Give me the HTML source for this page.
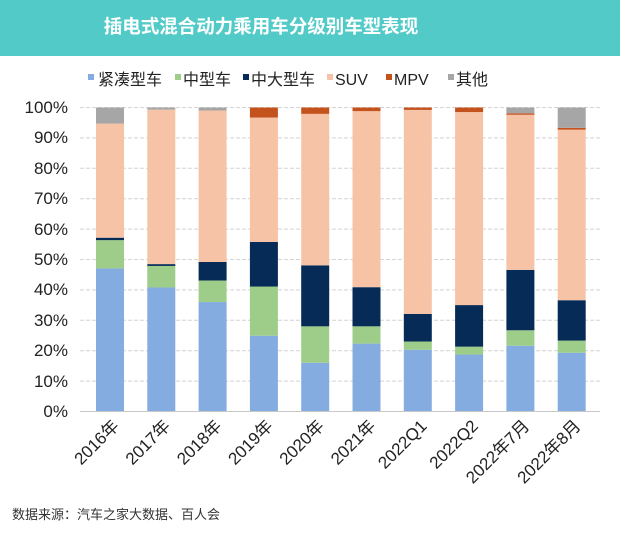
<!DOCTYPE html>
<html><head><meta charset="utf-8"><style>
body{margin:0;width:620px;height:533px;background:#fff;overflow:hidden}
svg text{font-family:"Liberation Sans","Noto Sans CJK SC",sans-serif}
</style></head><body>
<svg width="620" height="533" xmlns="http://www.w3.org/2000/svg">
<rect x="0" y="0" width="620" height="56" fill="#52cbc8"/>
<text x="261" y="33" font-size="18.5" fill="#fff" text-anchor="middle" font-weight="bold">插电式混合动力乘用车分级别车型表现</text>
<g font-size="16" fill="#222">
<rect x="88" y="74" width="6" height="6" fill="#85ace0"/><text x="98" y="85">紧凑型车</text>
<rect x="175" y="74" width="6" height="6" fill="#9dcd88"/><text x="183" y="85">中型车</text>
<rect x="243" y="74" width="6" height="6" fill="#062b57"/><text x="251" y="85">中大型车</text>
<rect x="327" y="74" width="6" height="6" fill="#f6c3a6"/><text x="335" y="85">SUV</text>
<rect x="386" y="74" width="6" height="6" fill="#c4521d"/><text x="394" y="85">MPV</text>
<rect x="448" y="74" width="6" height="6" fill="#a6a6a6"/><text x="456" y="85">其他</text>
</g>
<g stroke="#d4d4d4" stroke-dasharray="4,2" stroke-width="1">
<line x1="80" x2="600" y1="107.5" y2="107.5"/><line x1="80" x2="600" y1="137.9" y2="137.9"/><line x1="80" x2="600" y1="168.3" y2="168.3"/><line x1="80" x2="600" y1="198.7" y2="198.7"/><line x1="80" x2="600" y1="229.1" y2="229.1"/><line x1="80" x2="600" y1="259.5" y2="259.5"/><line x1="80" x2="600" y1="289.9" y2="289.9"/><line x1="80" x2="600" y1="320.3" y2="320.3"/><line x1="80" x2="600" y1="350.7" y2="350.7"/><line x1="80" x2="600" y1="381.1" y2="381.1"/>
</g>
<g font-size="17" fill="#222" text-anchor="end">
<text x="68" y="417">0%</text><text x="68" y="387">10%</text><text x="68" y="356">20%</text><text x="68" y="326">30%</text><text x="68" y="295">40%</text><text x="68" y="265">50%</text><text x="68" y="235">60%</text><text x="68" y="204">70%</text><text x="68" y="174">80%</text><text x="68" y="143">90%</text><text x="68" y="113">100%</text>
</g>
<g id="bars"></g>
<line x1="80" x2="600" y1="411.5" y2="411.5" stroke="#c8c8c8" stroke-width="1"/>
<g id="xl" font-size="17" fill="#222" text-anchor="end"></g>
<text x="12" y="519" font-size="13" fill="#333">数据来源：汽车之家大数据、百人会</text>
<script>
var d=[[47,56.3,57.1,94.7,94.7],[40.7,47.8,48.4,99.3,99.3],[35.9,43,49.1,99,99],[24.8,41,55.7,96.7,100],[15.9,27.9,48,97.9,100],[22.2,27.9,40.8,98.8,100],[20.2,22.9,32,99.2,100],[18.6,21.2,34.9,98.5,100],[21.5,26.6,46.5,97.6,98.1],[19.2,23.2,36.5,92.7,93.3]];
var c=["#85ace0","#9dcd88","#062b57","#f6c3a6","#c4521d","#a6a6a6"];
var L=["2016年","2017年","2018年","2019年","2020年","2021年","2022Q1","2022Q2","2022年7月","2022年8月"];
var ns="http://www.w3.org/2000/svg",g=document.getElementById("bars"),xl=document.getElementById("xl");
function y(v){return 411-v*3.035;}
d.forEach(function(r,i){var x=96+i*51.3,p=0;var v=r.concat([100]);
v.forEach(function(t,k){if(t>p){var e=document.createElementNS(ns,"rect");e.setAttribute("x",x);e.setAttribute("width",28);e.setAttribute("y",y(t));e.setAttribute("height",y(p)-y(t));e.setAttribute("fill",c[k]);g.appendChild(e);}p=Math.max(p,t);});
var t=document.createElementNS(ns,"text");var ax=x+14+10,ay=427;t.setAttribute("x",ax);t.setAttribute("y",ay);t.setAttribute("transform","rotate(-45 "+ax+" "+ay+")");t.textContent=L[i];xl.appendChild(t);});
</script>
</svg>
</body></html>
